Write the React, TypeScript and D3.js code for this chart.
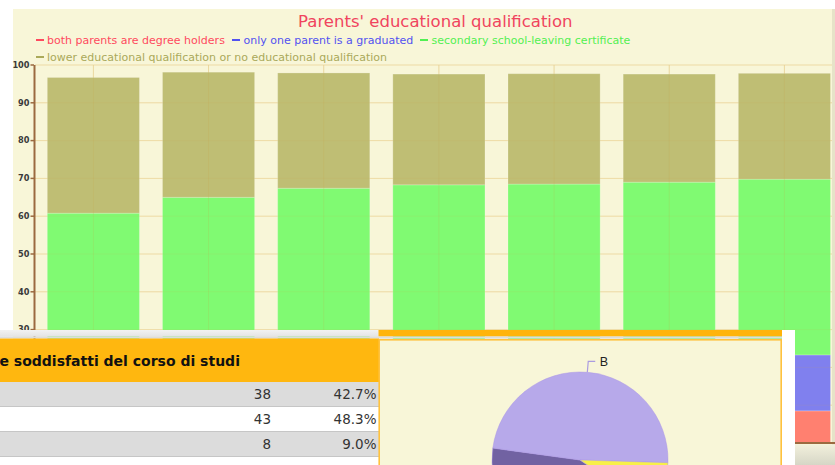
import React from "react";
import * as d3 from "d3";

const categories = ["2005", "2006", "2007", "2008", "2009", "2010", "2011"];
const bothDegree = [10.2, 9.6, 9.1, 8.9, 8.7, 8.6, 8.5];
const oneGraduate = [15.8, 15.4, 15.2, 15.0, 14.9, 14.8, 14.8];
const secondary = [34.8, 40.0, 43.1, 44.4, 44.9, 45.6, 46.5];
const lower = [35.9, 33.1, 30.5, 29.3, 29.2, 28.6, 28.0];
const seriesNames = [
  "both parents are degree holders",
  "only one parent is a graduated",
  "secondary school-leaving certificate",
  "lower educational qualification or no educational qualification",
];
const seriesFill = ["#ff8070", "#8080ee", "#80fa72", "#bfbe74"];
const legendColor = ["#ff4a5e", "#5252f0", "#52f052", "#aaa95a"];
const titleText = "Parents' educational qualification";

const tableHeader = "e soddisfatti del corso di studi";
const pieLabels = ["A", "B", "C"];
const tableCounts = [38, 43, 8];
const pieFill = ["#7162a2", "#b7a9ea", "#f8f048"];

const W = 835;
const H = 465;

export default function App() {
  const y = d3.scaleLinear().domain([0, 100]).range([443, 65]);
  const x = d3
    .scaleBand<string>()
    .domain(categories)
    .range([35.8, 842])
    .paddingInner(0.2)
    .paddingOuter(0.1);

  const rows = categories.map((c, i) => ({
    cat: c,
    s0: bothDegree[i],
    s1: oneGraduate[i],
    s2: secondary[i],
    s3: lower[i],
  }));
  const stack = d3.stack<any>().keys(["s0", "s1", "s2", "s3"])(rows);
  const ticks = d3.range(0, 101, 10);
  const overlayTop = 330;
  const labelTicks = ticks.filter((t) => y(t) <= overlayTop + 1);

  const total = d3.sum(tableCounts);
  const pctFmt = d3.format(".1f");

  const cx = 580;
  const cy = 460;
  const r = 88;
  const start = (124.1 * Math.PI) / 180;
  const pie = d3
    .pie<number>()
    .sort(null)
    .startAngle(start)
    .endAngle(start + 2 * Math.PI)(tableCounts);
  const arc = d3.arc<any>().innerRadius(0).outerRadius(r);

  const legendItems = [
    { i: 0, mx: 36, tx: 47, ty: 40 },
    { i: 1, mx: 232, tx: 243.5, ty: 40 },
    { i: 2, mx: 420, tx: 431.5, ty: 40 },
    { i: 3, mx: 36, tx: 47, ty: 57 },
  ];

  const rowY = [382, 407, 432];

  return (
    <div style={{ position: "fixed", left: 0, top: 0, width: W, height: H, background: "#fff" }}>
      <svg width={W} height={H} style={{ display: "block" }}>
        <defs>
          <linearGradient id="bot" x1="0" y1="0" x2="0" y2="1">
            <stop offset="0" stopColor="#f2f0dc" />
            <stop offset="1" stopColor="#d6d6c6" />
          </linearGradient>
          <linearGradient id="strip" x1="0" y1="0" x2="0" y2="1">
            <stop offset="0" stopColor="#f2f2f2" />
            <stop offset="1" stopColor="#e4e4e4" />
          </linearGradient>
        </defs>
        {/* chart background */}
        <rect x={13} y={9} width={W - 13} height={H - 9} fill="#f8f6d8" />
        <rect x={832} y={9} width={3} height={H - 9} fill="#e6e3c8" />

        {/* grid under bars */}
        {ticks.map((t) => (
          <line key={"g" + t} x1={35} x2={832} y1={y(t)} y2={y(t)} stroke="#f1e2b0" strokeWidth={1} />
        ))}
        {categories.map((c) => (
          <line
            key={"v" + c}
            x1={(x(c) as number) + x.bandwidth() / 2}
            x2={(x(c) as number) + x.bandwidth() / 2}
            y1={y(100)}
            y2={y(0)}
            stroke="#f1e2b0"
            strokeWidth={1}
          />
        ))}

        {/* bars */}
        {stack.map((s, si) =>
          s.map((d: any, i: number) => (
            <rect
              key={si + "-" + i}
              x={x(categories[i]) as number}
              y={y(d[1])}
              width={x.bandwidth()}
              height={y(d[0]) - y(d[1])}
              fill={seriesFill[si]}
              stroke="rgba(255,255,255,0.2)"
              strokeWidth={1}
            />
          ))
        )}

        {/* grid over bars (faint) */}
        {ticks.map((t) => (
          <line key={"go" + t} x1={35} x2={832} y1={y(t)} y2={y(t)} stroke="rgba(220,170,80,0.1)" strokeWidth={1} />
        ))}
        {categories.map((c) => (
          <line
            key={"vo" + c}
            x1={(x(c) as number) + x.bandwidth() / 2}
            x2={(x(c) as number) + x.bandwidth() / 2}
            y1={y(100)}
            y2={y(0)}
            stroke="rgba(200,160,70,0.15)"
            strokeWidth={1}
          />
        ))}

        {/* y axis */}
        <line x1={34.5} x2={34.5} y1={y(100)} y2={y(0)} stroke="#9b6a40" strokeWidth={2} />
        <line x1={35} x2={835} y1={y(0)} y2={y(0)} stroke="#9b6a40" strokeWidth={2} />
        {ticks.map((t) => (
          <line key={"tk" + t} x1={30.5} x2={34} y1={y(t)} y2={y(t)} stroke="#9b6a40" strokeWidth={1.5} />
        ))}
        {labelTicks.map((t) => (
          <text
            key={"t" + t}
            x={29.5}
            y={y(t)}
            dy="0.35em"
            textAnchor="end"
            fontFamily="DejaVu Sans"
            fontWeight="bold"
            fontSize={8.2}
            fill="#3a3a3a"
          >
            {t}
          </text>
        ))}

        {/* title */}
        <text x={435.3} y={27} textAnchor="middle" fontFamily="DejaVu Sans" fontSize={16.5} fill="#f0445e">
          {titleText}
        </text>

        {/* legend */}
        {legendItems.map((l) => (
          <g key={"l" + l.i}>
            <line x1={l.mx} x2={l.mx + 8} y1={l.ty} y2={l.ty} stroke={legendColor[l.i]} strokeWidth={2} />
            <text x={l.tx} y={l.ty} dy="0.35em" fontFamily="DejaVu Sans" fontSize={11} fill={legendColor[l.i]}>
              {seriesNames[l.i]}
            </text>
          </g>
        ))}

        {/* bottom right shade under axis */}
        <rect x={795} y={444.5} width={40} height={H - 444.5} fill="url(#bot)" />

        {/* table overlay */}
        <rect x={0} y={overlayTop} width={378.5} height={6.5} fill="url(#strip)" />
        <rect x={378.5} y={overlayTop} width={403.5} height={6.5} fill="#ffb40c" />
        <rect x={0} y={336.5} width={782} height={2} fill="#dcdcdc" />
        <rect x={0} y={338.5} width={379} height={43.5} fill="#ffb70f" />
        <text x={-0.5} y={366} fontFamily="DejaVu Sans" fontWeight="bold" fontSize={14} fill="#111">
          {tableHeader}
        </text>
        {tableCounts.map((c, i) => (
          <g key={"row" + i}>
            <rect x={0} y={rowY[i]} width={379} height={25} fill={i % 2 === 0 ? "#dcdcdc" : "#ffffff"} />
            <line x1={0} x2={379} y1={rowY[i] + 24.5} y2={rowY[i] + 24.5} stroke="#c6c6c6" strokeWidth={1} />
            <text
              x={271}
              y={rowY[i] + 12.5}
              dy="0.36em"
              textAnchor="end"
              fontFamily="DejaVu Sans"
              fontSize={13.5}
              fill="#333"
            >
              {c}
            </text>
            <text
              x={376.5}
              y={rowY[i] + 12.5}
              dy="0.36em"
              textAnchor="end"
              fontFamily="DejaVu Sans"
              fontSize={13.5}
              fill="#333"
            >
              {pctFmt((c / total) * 100) + "%"}
            </text>
          </g>
        ))}
        <rect x={0} y={457} width={379} height={8} fill="#ffffff" />

        {/* pie panel */}
        <rect x={379.2} y={339.8} width={402} height={140} fill="#f8f6d8" stroke="#ffc23e" strokeWidth={1.6} />
        {pie.map((p, i) => (
          <path
            key={"p" + i}
            d={arc(p) as string}
            transform={`translate(${cx},${cy})`}
            fill={pieFill[i]}
            stroke="rgba(170,150,230,0.6)"
            strokeWidth={0.8}
          />
        ))}
        {pie.map((p, i) => {
          const a = (p.startAngle + p.endAngle) / 2;
          const sx = cx + r * Math.sin(a);
          const sy = cy - r * Math.cos(a);
          const ex = cx + (r + 11) * Math.sin(a);
          const ey = cy - (r + 11) * Math.cos(a);
          const dir = Math.sin(a) >= 0 ? 1 : -1;
          const hx = ex + dir * 7;
          if (ey > H - 8) return null;
          return (
            <g key={"pl" + i}>
              <polyline
                points={`${sx},${sy} ${ex},${ey} ${hx},${ey}`}
                fill="none"
                stroke="#ab9ce0"
                strokeWidth={1.2}
              />
              <text
                x={hx + dir * 4.5}
                y={ey}
                dy="0.35em"
                textAnchor={dir > 0 ? "start" : "end"}
                fontFamily="Liberation Sans"
                fontSize={12.5}
                fill="#222"
              >
                {pieLabels[i]}
              </text>
            </g>
          );
        })}

        {/* white gap */}
        <rect x={782} y={overlayTop} width={13} height={H - overlayTop} fill="#ffffff" />
      </svg>
    </div>
  );
}
